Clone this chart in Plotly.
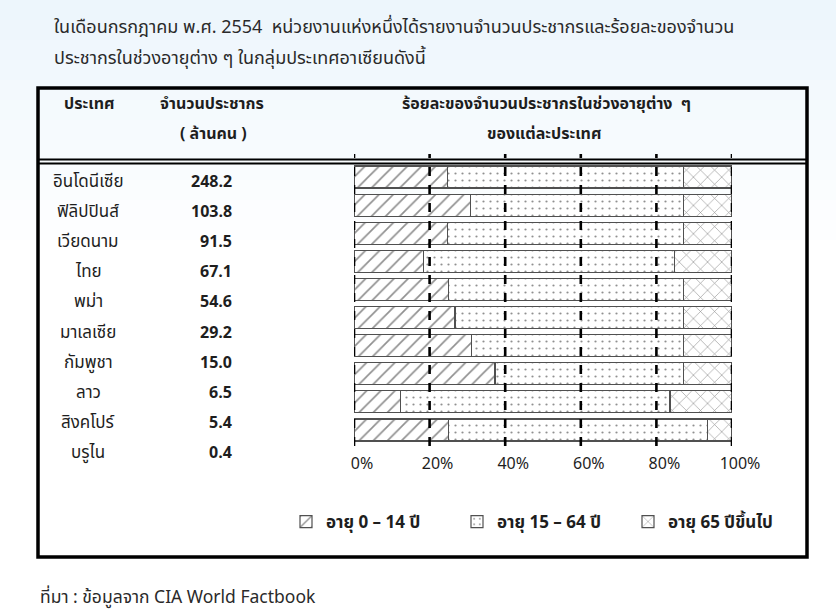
import plotly.graph_objects as go

W, H = 836, 612

countries = ["อินโดนีเซีย", "ฟิลิปปินส์", "เวียดนาม", "ไทย", "พม่า",
             "มาเลเซีย", "กัมพูชา", "ลาว", "สิงคโปร์", "บรูไน"]
population = ["248.2", "103.8", "91.5", "67.1", "54.6", "29.2", "15.0", "6.5", "5.4", "0.4"]

# percent of population per age group
age_0_14 = [24.7, 30.9, 24.7, 18.3, 25.0, 26.7, 31.0, 37.3, 12.3, 24.9]
age_15_64 = [62.5, 56.3, 62.5, 66.4, 62.2, 60.4, 56.2, 49.9, 71.3, 68.7]
age_65_up = [12.8, 12.8, 12.8, 15.3, 12.8, 12.9, 12.8, 12.8, 16.4, 6.4]

series_names = ["อายุ 0 – 14 ปี", "อายุ 15 – 64 ปี", "อายุ 65 ปีขึ้นไป"]
tick_vals = [0, 20, 40, 60, 80, 100]
tick_text = ["0%", "20%", "40%", "60%", "80%", "100%"]

title_lines = ["ในเดือนกรกฎาคม พ.ศ. 2554  หน่วยงานแห่งหนึ่งได้รายงานจำนวนประชากรและร้อยละของจำนวน",
               "ประชากรในช่วงอายุต่าง ๆ ในกลุ่มประเทศอาเซียนดังนี้"]
source_text = "ที่มา : ข้อมูลจาก CIA World Factbook"

FONT = "Tahoma, 'Noto Sans Thai', 'Noto Sans', sans-serif"
TXT = "#1e1e1e"


def px_x(p):
    return p / W


def px_y(p):
    return 1 - p / H


patterns = [
    dict(shape="/", fgcolor="#222222", bgcolor="white", size=10, solidity=0.17),
    dict(shape=".", fgcolor="#222222", bgcolor="white", size=7, solidity=0.08),
    dict(shape="x", fgcolor="#222222", bgcolor="white", size=10, solidity=0.12),
]

fig = go.Figure()
for name, vals, pat in zip(series_names, [age_0_14, age_15_64, age_65_up], patterns):
    fig.add_trace(go.Bar(
        y=countries, x=vals, name=name, orientation="h", width=0.78,
        marker=dict(color="white", pattern=pat, line=dict(color="#505050", width=1.2)),
        hovertemplate="%{y}: %{x:.1f}%<extra>" + name + "</extra>",
    ))

shapes = []
# faint blue wash at the top of the page
for i in range(12):
    shapes.append(dict(type="rect", xref="paper", yref="paper", layer="below",
                       x0=0, x1=1, y0=px_y(20 * (i + 1)), y1=px_y(20 * i),
                       fillcolor="rgba(222,238,250,%.3f)" % (0.55 * (1 - i / 12)),
                       line=dict(width=0)))
# outer box and header double rule
shapes.append(dict(type="rect", xref="paper", yref="paper", x0=px_x(38), x1=px_x(807),
                   y0=px_y(557), y1=px_y(88), line=dict(color="black", width=3.5)))
for yy in (159.5, 163.5):
    shapes.append(dict(type="line", xref="paper", yref="paper", x0=px_x(38), x1=px_x(807),
                       y0=px_y(yy), y1=px_y(yy), line=dict(color="black", width=2)))
# dashed guide lines at every tick
for tv in tick_vals:
    shapes.append(dict(type="line", xref="x", yref="paper", layer="above", x0=tv, x1=tv,
                       y0=px_y(446), y1=px_y(154),
                       line=dict(color="black", width=2.6, dash="dash")))

annotations = []
for i, line in enumerate(title_lines):
    annotations.append(dict(text=line, x=px_x(52), y=px_y(28 + 30 * i), xref="paper", yref="paper",
                            xanchor="left", yanchor="middle", showarrow=False,
                            font=dict(size=18, color="#2a2a2a")))
headers = [("<b>ประเทศ</b>", 89, 104), ("<b>จำนวนประชากร</b>", 212, 104), ("<b>( ล้านคน )</b>", 213, 134),
           ("<b>ร้อยละของจำนวนประชากรในช่วงอายุต่าง  ๆ</b>", 546, 104), ("<b>ของแต่ละประเทศ</b>", 544, 134)]
for txt, hx, hy in headers:
    annotations.append(dict(text=txt, x=px_x(hx), y=px_y(hy), xref="paper", yref="paper",
                            xanchor="center", yanchor="middle", showarrow=False,
                            font=dict(size=16, color=TXT)))
for i, (c, p) in enumerate(zip(countries, population)):
    ry = 182 + 30.1 * i
    annotations.append(dict(text=c, x=px_x(88), y=px_y(ry), xref="paper", yref="paper",
                            xanchor="center", yanchor="middle", showarrow=False,
                            font=dict(size=17, color=TXT)))
    annotations.append(dict(text="<b>" + p + "</b>", x=px_x(234), y=px_y(ry), xref="paper", yref="paper",
                            xanchor="right", yanchor="middle", showarrow=False,
                            font=dict(size=16, color=TXT)))
annotations.append(dict(text=source_text, x=px_x(38), y=px_y(597), xref="paper", yref="paper",
                        xanchor="left", yanchor="middle", showarrow=False,
                        font=dict(size=17.5, color="#2a2a2a")))

fig.update_layout(
    width=W, height=H, margin=dict(l=0, r=0, t=0, b=0, autoexpand=False),
    paper_bgcolor="white", plot_bgcolor="rgba(0,0,0,0)",
    font=dict(family=FONT, color=TXT),
    barmode="stack", showlegend=True,
    shapes=shapes, annotations=annotations,
    legend=dict(orientation="h", x=px_x(286), y=px_y(522), xanchor="left", yanchor="middle",
                bgcolor="rgba(0,0,0,0)", font=dict(size=17, color=TXT, weight="bold"),
                entrywidth=126, entrywidthmode="pixels", itemwidth=30, traceorder="normal"),
)
fig.update_xaxes(domain=[px_x(354), px_x(732)], range=[0, 100], tickvals=tick_vals, ticktext=tick_text,
                 showgrid=False, zeroline=False, showline=False, ticks="",
                 tickfont=dict(size=16, color=TXT), ticklabelshift=8, ticklabelstandoff=8)
fig.update_yaxes(domain=[px_y(444), px_y(163)], autorange="reversed", visible=False)

# page margin off so the 836x612 figure fills the window exactly
fig.write_html("out.html", config={"responsive": False, "displayModeBar": False},
               post_script="document.body.style.margin='0';document.body.style.overflow='hidden';")
